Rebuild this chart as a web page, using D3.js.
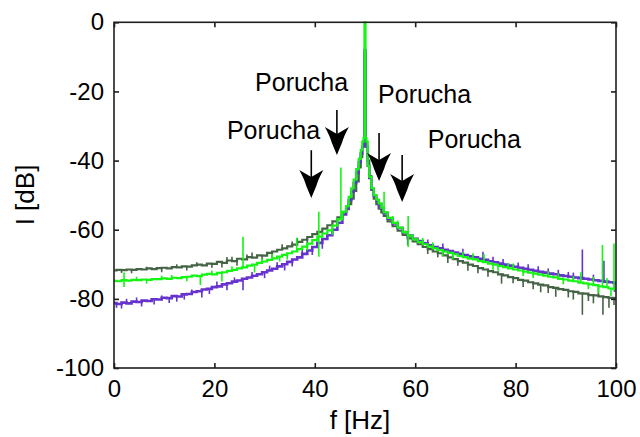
<!DOCTYPE html>
<html>
<head>
<meta charset="utf-8">
<script src="https://cdn.jsdelivr.net/npm/d3@7"></script>
<style>
  html, body { margin: 0; padding: 0; background: #fff; }
  svg { display: block; }
  text { font-family: "Liberation Sans", Arial, sans-serif; fill: #000; }
</style>
</head>
<body>
<svg id="chart" width="640" height="437"></svg>
<script>
// Frequency grid [Hz], denser around the 50 Hz line
const freq = [
  0, 1, 2, 3, 4, 5, 6, 7, 8, 9,
  10, 11, 12, 13, 14, 15, 16, 17, 18, 19,
  20, 21, 22, 23, 24, 25, 26, 27, 28, 29,
  30, 31, 32, 33, 34, 35, 36, 37, 38, 39,
  40, 41, 42, 43, 44, 45, 46,
  46.5, 47, 47.5, 48, 48.5, 49, 49.3, 49.6, 49.8,
  50,
  50.2, 50.4, 50.7, 51, 51.5, 52, 52.5, 53, 53.5,
  54, 55, 56, 57, 58, 59,
  60, 61, 62, 63, 64, 65, 66, 67, 68, 69,
  70, 71, 72, 73, 74, 75, 76, 77, 78, 79,
  80, 81, 82, 83, 84, 85, 86, 87, 88, 89,
  90, 91, 92, 93, 94, 95, 96, 97, 98, 99,
  100
];

// Spectrum levels [dB] for the three records
const darkGreenDb = [
  -71.8, -71.6, -71.7, -71.5, -71.6, -71.4, -71.5, -71.2, -71.4, -71.1,
  -71.0, -71.2, -70.8, -70.9, -70.6, -70.7, -70.3, -70.1, -70.3, -69.8,
  -69.9, -69.3, -69.6, -68.9, -69.1, -68.4, -68.6, -67.9, -68.1, -67.4,
  -67.5, -66.7, -66.3, -65.8, -65.4, -64.8, -64.3, -63.5, -62.9, -62.1,
  -61.3, -60.6, -59.7, -58.7, -57.6, -56.4, -54.8,
  -53.8, -52.6, -51.0, -48.8, -46.0, -42.0, -39.0, -36.0, -35.0,
  -9.0,
  -35.0, -36.0, -40.0, -44.5, -48.5, -51.0, -52.6, -53.9, -55.0,
  -56.0, -57.6, -59.0, -60.3, -61.5, -62.5,
  -63.4, -64.2, -65.0, -65.6, -66.3, -66.8, -67.4, -68.0, -68.5, -69.1,
  -69.5, -70.1, -70.5, -71.1, -71.5, -72.0, -72.3, -72.9, -73.2, -73.7,
  -74.0, -74.5, -74.7, -75.2, -75.5, -75.9, -76.1, -76.6, -76.8, -77.2,
  -77.4, -77.8, -78.0, -78.4, -78.5, -78.9, -79.0, -79.3, -79.5, -79.7,
  -79.8
];

const greenDb = [
  -74.8, -74.9, -74.6, -74.7, -74.5, -74.6, -74.4, -74.5, -74.3, -74.3,
  -74.1, -74.2, -73.9, -74.0, -73.7, -73.6, -73.3, -73.4, -73.0, -72.8,
  -72.9, -72.5, -72.3, -71.9, -71.6, -71.2, -70.9, -70.4, -70.1, -69.6,
  -69.2, -68.7, -68.3, -67.8, -67.3, -66.8, -66.3, -65.6, -64.9, -64.0,
  -63.0, -62.0, -61.1, -60.2, -58.8, -57.0, -54.8,
  -53.2, -50.5, -48.0, -45.5, -42.5, -39.5, -37.0, -34.5, -33.5,
  0,
  -33.5, -34.5, -41.5, -44.7, -48.0, -50.0, -51.3, -52.4, -53.6,
  -55.0, -56.6, -58.0, -59.4, -60.7, -61.7,
  -62.8, -63.6, -64.2, -64.9, -65.4, -65.9, -66.3, -66.7, -67.1, -67.6,
  -67.9, -68.4, -68.6, -69.1, -69.4, -69.8, -70.1, -70.5, -70.8, -71.2,
  -71.5, -71.8, -72.1, -72.4, -72.7, -73.0, -73.3, -73.6, -73.8, -74.2,
  -74.4, -74.7, -74.9, -75.3, -75.5, -75.8, -76.0, -76.4, -76.6, -77.0,
  -77.2
];

const violetDb = [
  -81.2, -81.5, -81.1, -81.3, -80.8, -80.9, -80.5, -80.6, -80.1, -80.2,
  -79.7, -79.8, -79.2, -79.3, -78.7, -78.6, -78.0, -77.8, -77.3, -77.1,
  -76.6, -76.4, -75.8, -75.5, -75.0, -74.7, -74.2, -73.8, -73.3, -72.9,
  -72.3, -71.8, -71.3, -70.6, -70.0, -69.3, -68.6, -68.0, -67.0, -66.0,
  -65.0, -63.8, -62.7, -61.6, -60.0, -58.0, -55.6,
  -54.0, -51.5, -49.0, -46.5, -43.5, -40.5, -38.0, -36.0, -35.5,
  -8.0,
  -35.5, -36.0, -41.5, -45.0, -48.2, -50.2, -51.5, -52.6, -53.8,
  -55.2, -56.8, -58.2, -59.5, -60.7, -61.7,
  -62.6, -63.3, -63.9, -64.5, -65.0, -65.4, -65.8, -66.2, -66.6, -67.0,
  -67.3, -67.7, -68.0, -68.4, -68.7, -69.1, -69.4, -69.8, -70.1, -70.4,
  -70.7, -71.0, -71.3, -71.6, -71.9, -72.2, -72.4, -72.7, -72.9, -73.2,
  -73.4, -73.6, -73.8, -74.0, -74.2, -74.4, -74.6, -74.8, -75.0, -75.2,
  -75.4
];

// Narrow spectral lines: [frequency, level at the floor, level at the line end]
const darkGreenSpikes = [
  [1.5, -71.6, -72.5], [3.5, -71.5, -72.6], [6.5, -71.5, -70.7], [9.5, -71.1, -72.3],
  [12.5, -70.8, -70.0], [14.5, -70.6, -71.8], [16.5, -70.3, -69.4], [19.5, -69.8, -71.0],
  [21.5, -69.3, -70.9], [22.5, -69.4, -67.9], [23.5, -69.0, -67.8], [24.5, -68.8, -70.4],
  [26.5, -68.5, -67.2], [27.5, -68.0, -66.6], [29.5, -67.4, -68.8], [31.5, -66.5, -68.0],
  [33.5, -65.6, -64.2], [35.5, -64.6, -63.4], [36.5, -63.9, -62.4], [38.5, -62.5, -64.0],
  [62.5, -65.3, -67.0], [64.5, -66.5, -68.0], [66.5, -67.7, -69.6], [68.5, -68.8, -70.4],
  [70.5, -69.8, -71.9], [72.5, -70.8, -72.6], [74.5, -71.3, -73.6], [77.2, -72.6, -75.6],
  [79.5, -73.5, -75.5], [81.5, -74.6, -76.6], [83.5, -75.0, -77.2], [85.0, -75.9, -78.1],
  [86.5, -76.3, -78.3], [88.0, -76.8, -79.4], [90.5, -77.6, -79.6], [91.5, -77.9, -80.2],
  [93.3, -78.2, -84.6], [94.5, -78.5, -80.6], [95.5, -78.9, -81.3], [96.5, -79.0, -76.8],
  [97.4, -79.3, -84.6], [98.6, -79.6, -82.6], [99.6, -79.7, -81.8]
];

const greenSpikes = [
  [2.0, -72.4, -76.6], [4.5, -74.5, -73.6], [6.5, -74.4, -75.6], [9.5, -74.3, -73.3],
  [11.5, -74.2, -73.1], [14.5, -73.7, -74.9], [17.2, -73.4, -76.0], [19.5, -72.8, -71.8],
  [21.5, -72.5, -75.0], [23.5, -71.8, -70.6], [25.7, -71.1, -62.0], [28.0, -70.1, -72.4],
  [29.5, -69.5, -68.3], [31.5, -68.5, -67.0], [33.0, -67.8, -69.2], [34.5, -67.0, -68.6],
  [36.4, -66.1, -62.3], [38.5, -64.4, -66.0], [40.8, -61.8, -54.8], [40.8, -61.8, -67.8],
  [43.5, -59.5, -61.5], [45.2, -56.8, -42.0], [53.8, -54.3, -49.0], [55.5, -56.0, -57.8],
  [56.5, -57.3, -59.5], [58.6, -61.1, -56.0], [58.6, -61.1, -65.0], [61.5, -63.9, -62.4],
  [63.5, -65.1, -63.6], [65.5, -66.1, -67.6], [67.5, -66.9, -68.6], [69.5, -67.7, -66.4],
  [71.5, -68.5, -66.8], [73.7, -69.3, -67.0], [75.5, -70.0, -71.6], [76.5, -70.3, -71.9],
  [78.5, -71.0, -69.6], [79.5, -71.3, -69.8], [81.5, -71.9, -73.4], [83.5, -72.6, -74.0],
  [86.5, -73.4, -72.0], [88.5, -74.0, -72.6], [89.5, -74.3, -75.8], [91.5, -74.8, -73.4],
  [93.0, -75.3, -72.3], [94.5, -75.6, -77.2], [95.5, -75.9, -73.6], [96.5, -76.2, -78.4],
  [97.3, -76.4, -64.4], [98.2, -76.7, -74.0], [99.0, -77.0, -79.2], [99.6, -77.1, -64.0]
];

const violetSpikes = [
  [0.5, -81.3, -82.6], [1.5, -81.3, -82.8], [2.5, -81.2, -80.0], [4.5, -80.9, -79.6],
  [5.5, -80.8, -82.2], [8.0, -80.1, -81.6], [9.5, -80.2, -79.0], [11.0, -79.8, -81.2],
  [12.5, -79.2, -80.8], [14.0, -78.7, -80.2], [15.5, -78.5, -77.3], [17.5, -77.6, -79.6],
  [19.0, -77.1, -78.6], [20.5, -76.5, -75.0], [22.5, -75.7, -77.5], [24.0, -75.0, -73.8],
  [25.7, -74.5, -77.5], [27.5, -73.6, -72.2], [30.0, -72.3, -74.0], [31.0, -71.8, -70.4],
  [32.5, -71.0, -69.4], [34.0, -70.0, -71.8], [35.5, -69.0, -70.6], [37.5, -67.5, -65.8],
  [39.5, -65.5, -67.3], [41.5, -63.2, -65.5], [48.8, -41.5, -44.0], [52.7, -51.8, -54.0],
  [58.5, -61.2, -64.5], [62.5, -64.2, -62.8], [65.5, -65.6, -64.0], [69.5, -67.1, -65.5],
  [73.5, -68.5, -66.4], [75.5, -69.2, -67.8], [77.5, -69.9, -68.5], [80.5, -70.8, -69.5],
  [82.5, -71.4, -70.0], [84.5, -72.0, -70.6], [86.5, -72.5, -71.2], [88.5, -73.0, -71.6],
  [90.5, -73.5, -72.2], [91.5, -73.7, -72.4], [93.3, -74.0, -65.7], [95.5, -74.5, -73.0],
  [97.6, -74.9, -69.0], [99.7, -75.3, -78.0]
];

// "Porucha" (fault) markers: arrow position [Hz], tail and tip levels [dB]
const arrowFreq = [39.3, 44.4, 52.8, 57.4];
const arrowTailDb = [-37.0, -25.4, -32.0, -38.4];
const arrowTipDb = [-50.8, -38.4, -45.9, -52.0];

// Annotation labels: left edge [Hz] and baseline [dB]
const labelText = ["Porucha", "Porucha", "Porucha", "Porucha"];
const labelFreq = [28.1, 22.5, 52.6, 62.5];
const labelDb = [-19.9, -33.8, -23.3, -36.4];

// Axis ticks
const xTicks = [0, 20, 40, 60, 80, 100];
const yTicks = [0, -20, -40, -60, -80, -100];

const svg = d3.select("#chart");
const plot = { left: 114, right: 616, top: 22.3, bottom: 368 };

const x = d3.scaleLinear().domain([0, 100]).range([plot.left, plot.right]);
const y = d3.scaleLinear().domain([-100, 0]).range([plot.bottom, plot.top]);

svg.append("defs").append("clipPath").attr("id", "plotClip")
  .append("rect")
  .attr("x", plot.left).attr("y", plot.top - 1)
  .attr("width", plot.right - plot.left).attr("height", plot.bottom - plot.top + 1);

const dataLayer = svg.append("g").attr("clip-path", "url(#plotClip)");

const series = [
  { name: "dark", values: darkGreenDb, spikes: darkGreenSpikes, color: "#456345", width: 2.2 },
  { name: "violet", values: violetDb, spikes: violetSpikes, color: "#6633cc", width: 2.6 },
  { name: "green", values: greenDb, spikes: greenSpikes, color: "#14f514", width: 2.2 }
];

const line = d3.line()
  .x((d, i) => x(freq[i]))
  .y(d => y(d))
  .curve(d3.curveStep);

series.forEach(s => {
  const g = dataLayer.append("g").attr("class", "series-" + s.name);
  g.append("path")
    .datum(s.values)
    .attr("fill", "none")
    .attr("stroke", s.color)
    .attr("stroke-width", s.width)
    .attr("d", line);
  g.selectAll("line")
    .data(s.spikes)
    .join("line")
    .attr("x1", d => x(d[0])).attr("x2", d => x(d[0]))
    .attr("y1", d => y(d[1])).attr("y2", d => y(d[2]))
    .attr("stroke", s.color)
    .attr("stroke-width", 1.6);
});

// Axes box with inward ticks on all four sides
const axisColor = "#1e1e1e";
const tickLen = 5;
const axes = svg.append("g");

axes.append("rect")
  .attr("x", plot.left).attr("y", plot.top)
  .attr("width", plot.right - plot.left).attr("height", plot.bottom - plot.top)
  .attr("fill", "none").attr("stroke", axisColor).attr("stroke-width", 1.6);

const bottomAxis = d3.axisBottom(x).tickValues(xTicks).tickSizeInner(-tickLen).tickSizeOuter(0).tickPadding(12);
const topAxis = d3.axisTop(x).tickValues(xTicks).tickSizeInner(-tickLen).tickSizeOuter(0).tickFormat("");
const leftAxis = d3.axisLeft(y).tickValues(yTicks).tickSizeInner(-tickLen).tickSizeOuter(0).tickPadding(10);
const rightAxis = d3.axisRight(y).tickValues(yTicks).tickSizeInner(-tickLen).tickSizeOuter(0).tickFormat("");

function styleAxis(g) {
  g.select(".domain").remove();
  g.selectAll(".tick line").attr("stroke", axisColor).attr("stroke-width", 1.6);
  g.selectAll(".tick text")
    .attr("fill", "#000")
    .style("font-family", '"Liberation Sans", Arial, sans-serif')
    .style("font-size", "24px");
}

axes.append("g").attr("transform", `translate(0,${plot.bottom})`).call(bottomAxis).call(styleAxis);
axes.append("g").attr("transform", `translate(0,${plot.top})`).call(topAxis).call(styleAxis);
axes.append("g").attr("transform", `translate(${plot.left},0)`).call(leftAxis).call(styleAxis);
axes.append("g").attr("transform", `translate(${plot.right},0)`).call(rightAxis).call(styleAxis);

// Minus signs drawn as plain hyphens
axes.selectAll(".tick text").text(function () { return this.textContent.replace("\u2212", "-"); });

// Axis titles
svg.append("text")
  .attr("x", 360).attr("y", 429)
  .attr("text-anchor", "middle")
  .style("font-size", "26px")
  .text("f [Hz]");

svg.append("text")
  .attr("transform", "translate(34,195) rotate(-90)")
  .attr("text-anchor", "middle")
  .style("font-size", "26px")
  .text("I [dB]");

// Fault markers
const markers = svg.append("g");
const headPath = "M0,0 L-5,-12 Q-7,-19 -12,-28 L0,-21 L12,-28 Q7,-19 5,-12 Z";

arrowFreq.forEach((f, i) => {
  const ax = x(f);
  const tail = y(arrowTailDb[i]);
  const tip = y(arrowTipDb[i]);
  markers.append("line")
    .attr("x1", ax).attr("x2", ax)
    .attr("y1", tail).attr("y2", tip - 20)
    .attr("stroke", "#000").attr("stroke-width", 1.6);
  markers.append("path")
    .attr("transform", `translate(${ax},${tip})`)
    .attr("d", headPath)
    .attr("fill", "#000");
});

labelText.forEach((t, i) => {
  markers.append("text")
    .attr("x", x(labelFreq[i]))
    .attr("y", y(labelDb[i]))
    .style("font-size", "25px")
    .text(t);
});
</script>
</body>
</html>
